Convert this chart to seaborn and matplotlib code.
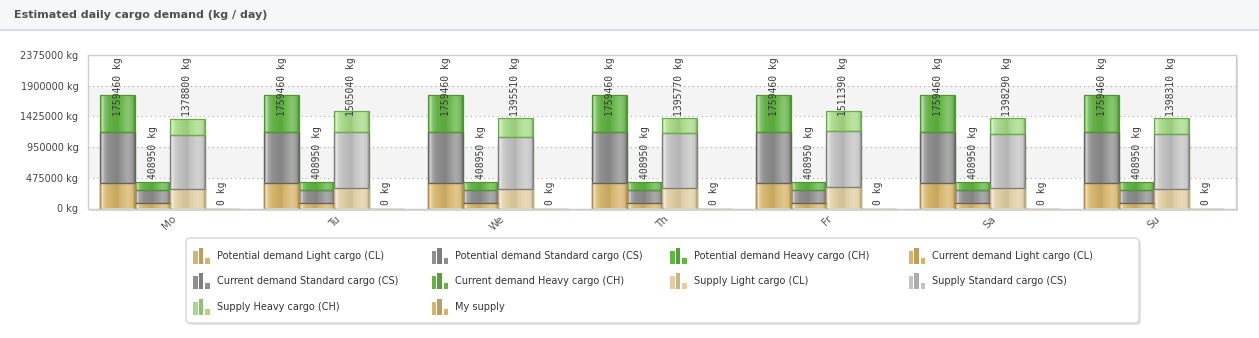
import numpy as np
import pandas as pd
import matplotlib
matplotlib.use("Agg")
import matplotlib.pyplot as plt
from matplotlib.patches import Rectangle, FancyBboxPatch
from matplotlib.colors import to_rgb
from matplotlib.transforms import ScaledTranslation
import seaborn as sns

# ---------------------------------------------------------------- data
days = ["Mo", "Tu", "We", "Th", "Fr", "Sa", "Su"]
groups = ["Potential demand", "Current demand", "Supply", "My supply"]
cargo_names = ["Light cargo (CL)", "Standard cargo (CS)", "Heavy cargo (CH)"]

potential_cl = [387000, 387000, 387000, 387000, 387000, 387000, 387000]
potential_cs = [790000, 790000, 790000, 790000, 790000, 790000, 790000]
potential_ch = [582460, 582460, 582460, 582460, 582460, 582460, 582460]

current_cl = [88000, 88000, 88000, 88000, 88000, 88000, 88000]
current_cs = [201000, 201000, 201000, 201000, 201000, 201000, 201000]
current_ch = [119950, 119950, 119950, 119950, 119950, 119950, 119950]

supply_cl = [308000, 320000, 294000, 310000, 325000, 310000, 308000]
supply_cs = [832000, 857000, 806000, 852000, 868000, 847000, 847000]
supply_ch = [238800, 328040, 295510, 233770, 318390, 241290, 243310]

my_supply = [0, 0, 0, 0, 0, 0, 0]

y_ticks = [0, 475000, 950000, 1425000, 1900000, 2375000]

# ---------------------------------------------------------------- styling
GOLD = "#d6b56a"
fills = {
    "CL": {"Potential demand": GOLD, "Current demand": GOLD,
           "Supply": "#e2cea2", "My supply": GOLD},
    "CS": {"Potential demand": "#8f8f8f", "Current demand": "#8f8f8f",
           "Supply": "#c3c3c3", "My supply": GOLD},
    "CH": {"Potential demand": "#63b445", "Current demand": "#63b445",
           "Supply": "#a7da89", "My supply": GOLD},
}
edges = {
    "CL": {"Potential demand": "#b09048", "Current demand": "#b09048",
           "Supply": "#c2ad7e", "My supply": "#c4a55c"},
    "CS": {"Potential demand": "#626262", "Current demand": "#626262",
           "Supply": "#7d7d7d", "My supply": "#c4a55c"},
    "CH": {"Potential demand": "#4b9a2d", "Current demand": "#4b9a2d",
           "Supply": "#68ad48", "My supply": "#c4a55c"},
}

prof_t = [0.0, 0.06, 0.12, 0.24, 0.5, 0.8, 0.93, 1.0]
prof_v = [-0.30, 0.65, 0.22, 0.0, -0.08, 0.25, 0.12, -0.22]


def cylinder(color, n=80):
    base = np.array(to_rgb(color))
    v = np.interp(np.linspace(0, 1, n), prof_t, prof_v)[:, None]
    out = np.where(v > 0, base + (1 - base) * v, base * (1 + v))
    return np.clip(out, 0, 1)[None, :, :]


# ---------------------------------------------------------------- table
seg = {
    "Potential demand": (potential_cl, potential_cs, potential_ch),
    "Current demand": (current_cl, current_cs, current_ch),
    "Supply": (supply_cl, supply_cs, supply_ch),
}
rows = []
for g in groups:
    for i, d in enumerate(days):
        if g == "My supply":
            cl, cs, ch = my_supply[i], 0, 0
        else:
            cl, cs, ch = seg[g][0][i], seg[g][1][i], seg[g][2][i]
        rows.append(dict(day=d, group=g, CL=cl, CS=cl + cs, CH=cl + cs + ch))
df = pd.DataFrame(rows)

# ---------------------------------------------------------------- figure
W, H = 1259, 338
DPI = 100
sns.set_theme(style="white")
plt.rcParams["font.family"] = ["DejaVu Sans"]

fig = plt.figure(figsize=(W / DPI, H / DPI), dpi=DPI)
fig.patch.set_facecolor("white")

# pixel-space canvas for the header, frame shadow and legend
bg = fig.add_axes([0, 0, 1, 1], zorder=-1)
bg.set_xlim(0, W)
bg.set_ylim(H, 0)
bg.axis("off")

bg.add_patch(Rectangle((0, 0), W, 29, facecolor="#f6f7f9", edgecolor="none"))
bg.add_patch(Rectangle((0, 29), W, 2, facecolor="#d4dce8", edgecolor="none"))
bg.text(14, 15.5, "Estimated daily cargo demand (kg / day)", fontsize=8,
        fontweight="bold", color="#505050", va="center", ha="left")

L, R, T, B = 88, 1236, 55, 208.5
bg.add_patch(Rectangle((L + 2.5, T + 2.5), R - L, B - T, facecolor="#d9d9d9",
                       edgecolor="none"))

ax = fig.add_axes([L / W, 1 - B / H, (R - L) / W, (B - T) / H], zorder=1)
ax.set_facecolor("white")

for lo, hi in [(y_ticks[1], y_ticks[2]), (y_ticks[3], y_ticks[4])]:
    ax.axhspan(lo, hi, color="#f4f4f4", zorder=0, lw=0)

# stacked columns: tallest cumulative layer first, lighter layers in front
layers = ["CH", "CS", "CL"]
upper_of = {"CS": "CH", "CL": "CS"}
z = 2.0
bar_geom = {}
for key in layers:
    n_before = len(ax.containers)
    sns.barplot(data=df, x="day", y=key, hue="group", order=days,
                hue_order=groups, palette=fills[key], width=0.85,
                saturation=1, errorbar=None, legend=False, ax=ax,
                linewidth=0)
    for cont in ax.containers[n_before:]:
        for p in cont.patches:
            cx = p.get_x() + p.get_width() / 2
            di = int(round(cx))
            gi = int(round((cx - di + 0.31875) / 0.2125))
            g = groups[gi]
            bar_geom[(di, gi)] = (p.get_x(), p.get_width())
            p.set_facecolor("none")
            p.set_edgecolor(edges[key][g])
            p.set_linewidth(0.9)
            p.set_zorder(z + 0.02)
            h = p.get_height()
            if h > 0:
                im = ax.imshow(cylinder(fills[key][g]),
                               extent=(p.get_x(), p.get_x() + p.get_width(),
                                       p.get_y(), p.get_y() + h),
                               aspect="auto", interpolation="bilinear",
                               zorder=z + 0.01)
                im.set_clip_path(p)
            if key in upper_of:
                row = df[(df.day == days[di]) & (df.group == g)].iloc[0]
                up = upper_of[key]
                if row[up] > row[key] and row[key] > 0:
                    ax.hlines(row[key], p.get_x(), p.get_x() + p.get_width(),
                              color=edges[up][g], lw=0.9, zorder=z + 0.03)
    z += 0.1

# value labels above each column
labels = []
for _, row in df.iterrows():
    di, gi = days.index(row.day), groups.index(row.group)
    x0, w = bar_geom[(di, gi)]
    t = ax.annotate(f"{int(row.CH)} kg", (x0 + w / 2, row.CH),
                    xytext=(0, 2.5), textcoords="offset points",
                    rotation=90, ha="center", va="bottom", fontsize=7,
                    family="DejaVu Sans Mono", color="#3c3c3c", zorder=10)
    labels.append(t)

ax.set_xlim(-0.5, len(days) - 0.5)
ax.set_ylim(y_ticks[0], y_ticks[-1])
ax.set_yticks(y_ticks)
ax.set_yticklabels([f"{v} kg" for v in y_ticks])
ax.set_xlabel("")
ax.set_ylabel("")
ax.tick_params(axis="y", length=0, pad=7, labelsize=7, labelcolor="#444444")
ax.tick_params(axis="x", length=0, pad=4, labelsize=7.5, labelcolor="#555555")
shift = ScaledTranslation(6 / 72, 0, fig.dpi_scale_trans)
for lbl in ax.get_xticklabels():
    lbl.set_rotation(45)
    lbl.set_ha("right")
    lbl.set_va("top")
    lbl.set_transform(lbl.get_transform() + shift)

ax.yaxis.grid(True, linestyle=(0, (1, 3)), color="#a8a8a8", lw=0.8)
ax.xaxis.grid(False)
ax.set_axisbelow(True)
for s in ax.spines.values():
    s.set_visible(True)
    s.set_color("#cfcfcf")
    s.set_linewidth(1.0)

# ---------------------------------------------------------------- legend
bg.add_patch(FancyBboxPatch((188, 240), 953, 85,
                            boxstyle="round,pad=0,rounding_size=4",
                            facecolor="#e4e4e4", edgecolor="none"))
bg.add_patch(FancyBboxPatch((186, 238), 953, 85,
                            boxstyle="round,pad=0,rounding_size=4",
                            facecolor="white", edgecolor="#d6d6d6", lw=1))

entries = []
for g in groups[:3]:
    for key, cname in zip(["CL", "CS", "CH"], cargo_names):
        entries.append((f"{g} {cname}", fills[key][g]))
entries.append(("My supply", fills["CL"]["My supply"]))

for i, (text, col) in enumerate(entries):
    r, c = divmod(i, 4)
    x = 193 + c * 238.5
    yc = 256 + r * 25.5
    base = yc + 7.5
    for dx, hh, shade in [(0.5, 13, 0.0), (6.0, 16, -0.12), (12.5, 6, 0.0)]:
        rgb = np.array(to_rgb(col)) * (1 + shade)
        bg.add_patch(Rectangle((x + dx, base - hh), 4.5, hh,
                               facecolor=np.clip(rgb, 0, 1), edgecolor="none"))
    bg.text(x + 24, yc, text, fontsize=7, color="#333333", va="center",
            ha="left")

# keep column labels inside the plot frame
fig.canvas.draw()
rend = fig.canvas.get_renderer()
top_px = ax.get_window_extent(rend).y1 - 2.5
for t in labels:
    bb = t.get_window_extent(rend)
    if bb.y1 > top_px:
        ox, oy = t.xyann
        t.xyann = (ox, oy - (bb.y1 - top_px) * 72 / DPI)

fig.savefig("out.png", dpi=DPI, facecolor="white")
